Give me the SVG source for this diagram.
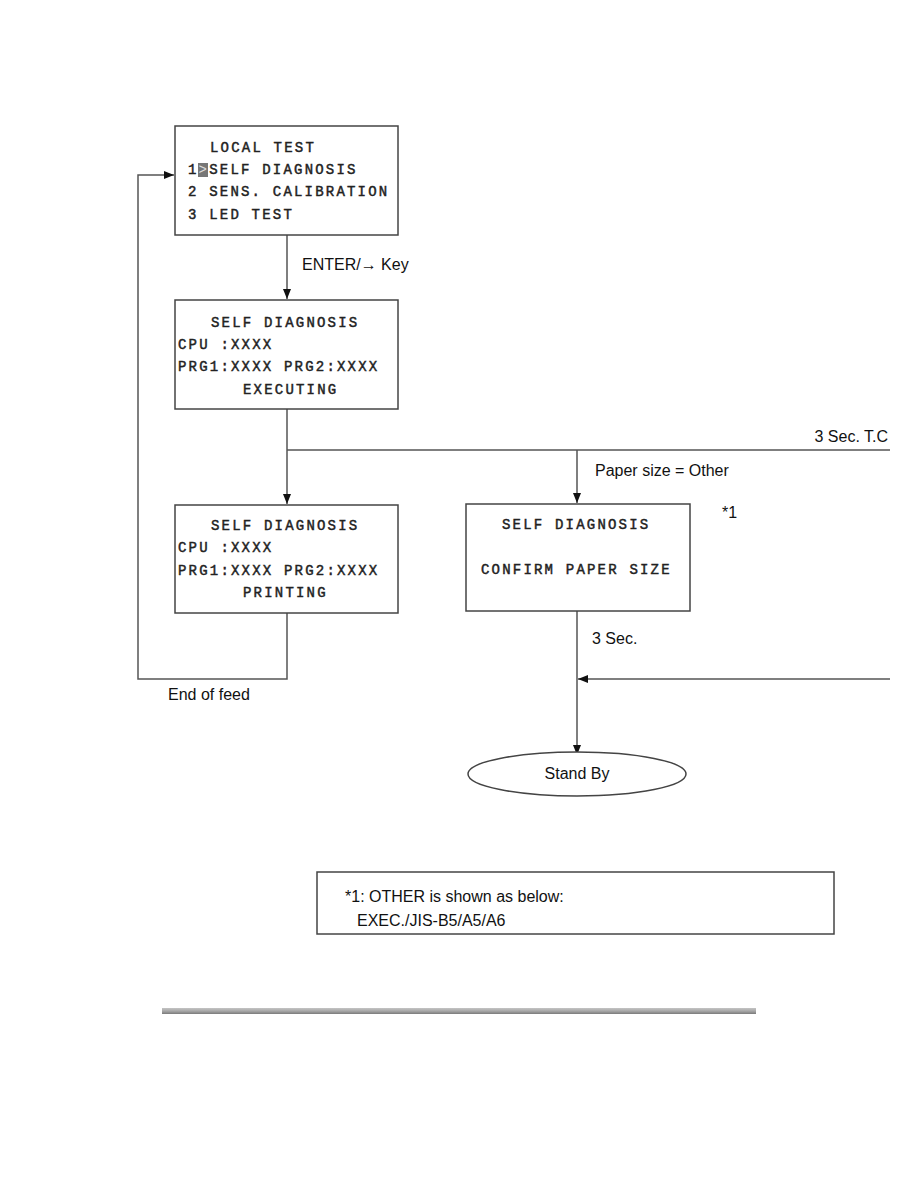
<svg xmlns="http://www.w3.org/2000/svg" width="918" height="1188" viewBox="0 0 918 1188">
<style>
.box{fill:#fff;stroke:#444;stroke-width:1.5}
.mono{font-family:"Liberation Mono","Courier New",monospace;font-size:14px;letter-spacing:2.2px;fill:#222;stroke:#222;stroke-width:0.45}
.sans{font-family:"Liberation Sans",Arial,sans-serif;font-size:16px;fill:#111}
.ln{fill:none;stroke:#555;stroke-width:1.5}
</style>
<defs>
<marker id="ah" markerWidth="10" markerHeight="8" refX="10" refY="4" orient="auto" markerUnits="userSpaceOnUse">
<path d="M0,0 L10,4 L0,8 Z" fill="#111"/>
</marker>
<linearGradient id="bar" x1="0" y1="0" x2="0" y2="1">
<stop offset="0" stop-color="#c4c4c4"/>
<stop offset="0.5" stop-color="#a8a8a8"/>
<stop offset="1" stop-color="#7a7a7a"/>
</linearGradient>
</defs>
<rect width="918" height="1188" fill="#fff"/>

<g id="connectors">
<line class="ln" x1="287" y1="235" x2="287" y2="299" marker-end="url(#ah)"/>
<line class="ln" x1="287" y1="409" x2="287" y2="504" marker-end="url(#ah)"/>
<line class="ln" x1="287" y1="450" x2="890" y2="450"/>
<line class="ln" x1="577" y1="450" x2="577" y2="503" marker-end="url(#ah)"/>
<polyline class="ln" points="287,613 287,679 138,679 138,175 174,175" marker-end="url(#ah)"/>
<line class="ln" x1="577" y1="611" x2="577" y2="755" marker-end="url(#ah)"/>
<line class="ln" x1="890" y1="679" x2="578" y2="679" marker-end="url(#ah)"/>
<text class="sans" x="302" y="270">ENTER/→ Key</text>
<text class="sans" x="888" y="442" text-anchor="end">3 Sec. T.C</text>
<text class="sans" x="595" y="476">Paper size = Other</text>
<text class="sans" x="592" y="644">3 Sec.</text>
<text class="sans" x="168" y="700">End of feed</text>
</g>

<g id="local-test">
<rect class="box" x="175" y="126" width="223" height="109"/>
<rect x="198" y="163" width="10" height="14" fill="#777"/>
<text class="mono" x="210" y="152">LOCAL TEST</text>
<text class="mono" x="188" y="174">1<tspan fill="#ddd" stroke="none">&gt;</tspan>SELF DIAGNOSIS</text>
<text class="mono" x="188" y="196">2 SENS. CALIBRATION</text>
<text class="mono" x="188" y="219">3 LED TEST</text>
</g>

<g id="executing">
<rect class="box" x="175" y="300" width="223" height="109"/>
<text class="mono" x="211" y="327">SELF DIAGNOSIS</text>
<text class="mono" x="178" y="349">CPU :XXXX</text>
<text class="mono" x="178" y="371">PRG1:XXXX PRG2:XXXX</text>
<text class="mono" x="243" y="394">EXECUTING</text>
</g>

<g id="printing">
<rect class="box" x="175" y="505" width="223" height="108"/>
<text class="mono" x="211" y="530">SELF DIAGNOSIS</text>
<text class="mono" x="178" y="552">CPU :XXXX</text>
<text class="mono" x="178" y="575">PRG1:XXXX PRG2:XXXX</text>
<text class="mono" x="243" y="597">PRINTING</text>
</g>

<g id="confirm">
<rect class="box" x="466" y="504" width="224" height="107"/>
<text class="mono" x="502" y="529">SELF DIAGNOSIS</text>
<text class="mono" x="481" y="574">CONFIRM PAPER SIZE</text>
<text class="sans" x="722" y="518">*1</text>
</g>

<g id="standby">
<ellipse cx="577" cy="774" rx="109" ry="22" fill="#fff" stroke="#444" stroke-width="1.5"/>
<text class="sans" x="577" y="779" text-anchor="middle">Stand By</text>
</g>

<g id="note">
<rect class="box" x="317" y="872" width="517" height="62"/>
<text class="sans" x="345" y="902">*1: OTHER is shown as below:</text>
<text class="sans" x="357" y="926">EXEC./JIS-B5/A5/A6</text>
</g>

<rect x="162" y="1008" width="594" height="6" fill="url(#bar)"/>
</svg>
